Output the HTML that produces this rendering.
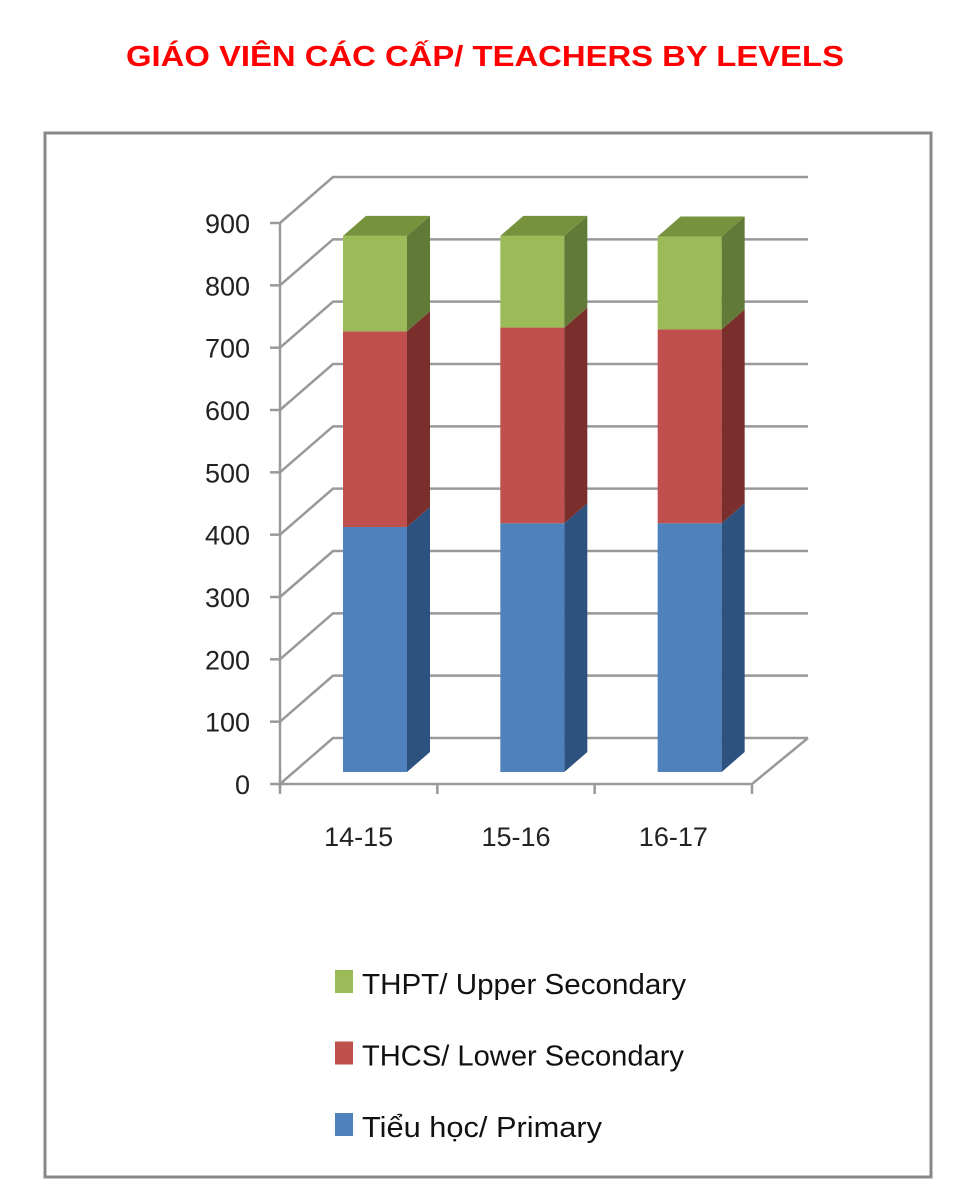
<!DOCTYPE html>
<html><head><meta charset="utf-8"><style>
html,body{margin:0;padding:0;background:#fff;}
svg{display:block;font-family:"Liberation Sans",sans-serif;}
</style></head><body>
<svg id="chart" width="960" height="1181" viewBox="0 0 960 1181">
<text x="485" y="66" text-anchor="middle" font-weight="bold" font-size="29" fill="#ff0000" textLength="718" lengthAdjust="spacingAndGlyphs">GIÁO VIÊN CÁC CẤP/ TEACHERS BY LEVELS</text>
<rect x="45" y="133" width="886" height="1044" fill="#fff" stroke="#888" stroke-width="3"/>
<g id="grid"></g>
<g id="bars"></g>
<g id="legend"></g>
</svg>
<script>
const categories = ["14-15","15-16","16-17"];
const primary = [393, 399, 399];
const lower = [314, 314, 311];
const upper = [153, 147, 149];
const yTicks = [0,100,200,300,400,500,600,700,800,900];
const seriesNames = ["THPT/ Upper Secondary","THCS/ Lower Secondary","Tiểu học/ Primary"];

const NS="http://www.w3.org/2000/svg";
function mk(tag, attrs, parent){const e=document.createElementNS(NS,tag);for(const k in attrs)e.setAttribute(k,attrs[k]);parent.appendChild(e);return e;}
const front0=784, pxPer=561/900, axX=280, dx=53, dy=-46, floorRight=752;
const y=v=>front0 - v*pxPer;
const grid=document.getElementById('grid');
yTicks.forEach(v=>{
  const yy=y(v);
  const g=mk('polyline',{points:`${axX},${yy} ${axX+dx},${yy+dy} 808,${yy+dy}`,fill:'none',stroke:'#999','stroke-width':2.5},grid);
  
  
  const t=mk('line',{x1:270,y1:yy,x2:axX,y2:yy,stroke:'#999','stroke-width':2.5},grid);
  
  
  const l=mk('text',{x:250,y:yy+10,'text-anchor':'end','font-size':27,fill:'#222'},grid);
  l.textContent=v;
  
  
});
const ax=mk('line',{x1:axX,y1:y(900),x2:axX,y2:front0+6,stroke:'#999','stroke-width':2.5},grid);


const fl=mk('polyline',{points:`${axX},${front0} ${floorRight},${front0} ${floorRight+dx+3},${front0+dy}`,fill:'none',stroke:'#999','stroke-width':2.5},grid);


const catW=(floorRight-axX)/categories.length;
for(let i=0;i<=categories.length;i++){
  const xx=axX+i*catW;
  const t=mk('line',{x1:xx,y1:front0,x2:xx,y2:front0+10,stroke:'#999','stroke-width':2.5},grid);
  
  
}
const bars=document.getElementById('bars');
const base=772, bw=64, bdx=23, bdy=-20;
const colors=[["#4f81bd","#2e5280","#4f81bd"],["#c0504d","#7a2f2d","#c0504d"],["#9bbb59","#627a37","#76923c"]];
const names=["primary","lower-secondary","upper-secondary"];
categories.forEach((c,i)=>{
  const x0=axX+i*catW+63;
  const vals=[primary[i],lower[i],upper[i]];
  let cum=0;
  vals.forEach((v,s)=>{
    const yb=base-cum*pxPer, yt=base-(cum+v)*pxPer;
    cum+=v;
    const f=mk('rect',{x:x0,y:yt,width:bw,height:yb-yt,fill:colors[s][0]},bars);
    
    
    const sd=mk('polygon',{points:`${x0+bw},${yb} ${x0+bw+bdx},${yb+bdy} ${x0+bw+bdx},${yt+bdy} ${x0+bw},${yt}`,fill:colors[s][1]},bars);
    
    
    if(s===2){
      const tp=mk('polygon',{points:`${x0},${yt} ${x0+bdx},${yt+bdy} ${x0+bw+bdx},${yt+bdy} ${x0+bw},${yt}`,fill:colors[s][2]},bars);
      
      
    }
  });
  const l=mk('text',{x:axX+(i+0.5)*catW,y:846,'text-anchor':'middle','font-size':27,fill:'#222'},bars);
  l.textContent=c;
  
  
});
const legend=document.getElementById('legend');
const lc=["#9bbb59","#c0504d","#4f81bd"], lw=[324,322,240];
seriesNames.forEach((n,i)=>{
  const yy=970+i*71.5;
  const r=mk('rect',{x:335,y:yy,width:18,height:23,fill:lc[i]},legend);
  
  
  const t=mk('text',{x:362,y:yy+24,'font-size':29,fill:'#111',textLength:lw[i],lengthAdjust:'spacingAndGlyphs'},legend);
  t.textContent=n;
  
  
});
</script>
</body></html>
